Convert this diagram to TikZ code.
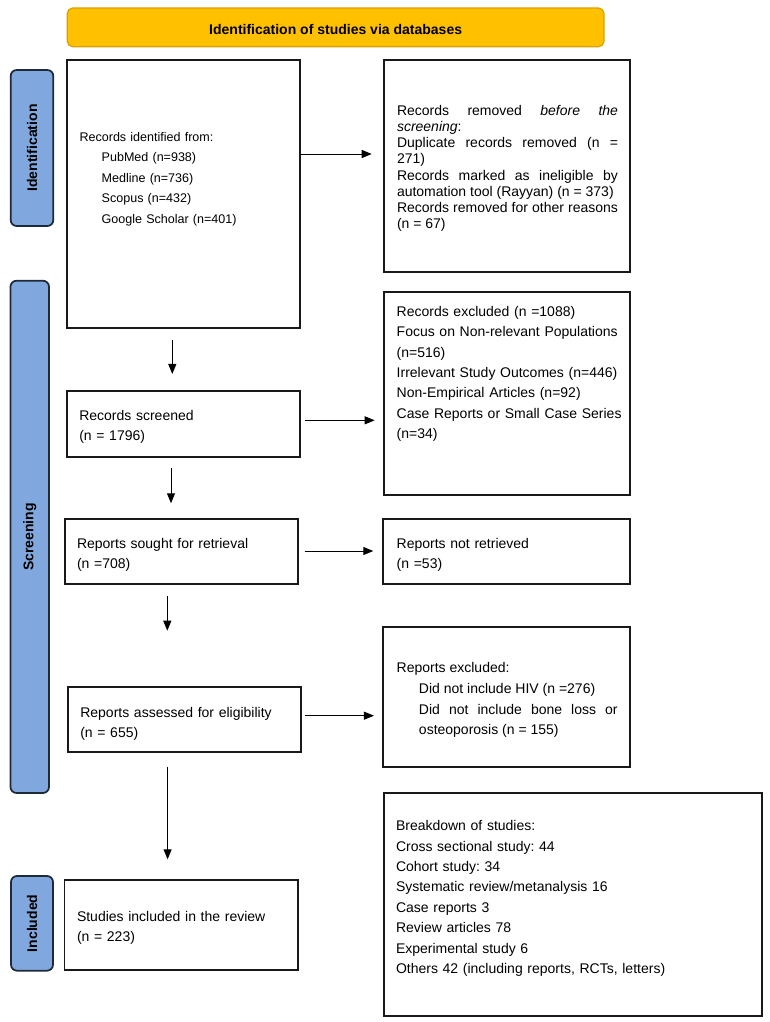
\documentclass[tikz,border=0pt]{standalone}
\usepackage{fontspec}
\setmainfont{Liberation Sans}
\frenchspacing
\usetikzlibrary{arrows.meta,calc}
\definecolor{bannerfill}{HTML}{FFC000}
\definecolor{bannerline}{HTML}{D9A000}
\definecolor{sidefill}{HTML}{80A8DE}
\definecolor{sideline}{HTML}{1E2A38}
\begin{document}
\begin{tikzpicture}[x=0.75pt,y=-0.75pt,
  box/.style={draw=black!90, line width=1.3pt, inner sep=0pt, outer sep=0pt},
  sidebox/.style={draw=sideline, fill=sidefill, line width=1.3pt, rounded corners=4.5pt, inner sep=0pt, outer sep=0pt},
  sidetext/.style={rotate=90, font=\fontsize{10.5}{12}\selectfont\bfseries, inner sep=0pt},
  banner/.style={draw=bannerline, fill=bannerfill, line width=0.9pt, rounded corners=4pt, inner sep=0pt, outer sep=0pt},
  bantext/.style={font=\fontsize{10.5}{12}\selectfont\bfseries, inner sep=0pt},
  txt/.style={anchor=base west, inner sep=0pt, outer sep=0pt, align=left, text width=175pt, font=\fontsize{10.5}{15.2}\selectfont},
  arr/.style={line width=0.75pt, -{Triangle[length=7.5pt,width=6pt]}}
]
\useasboundingbox (0,0) rectangle (770,1022);

% banner
\node[banner, minimum width=402.5pt, minimum height=29pt] (ban) at (335.65,27.35) {};
\node[bantext] (bant) at (335.65,29.5) {Identification of studies via databases};

% side labels
\node[sidebox, minimum width=32pt, minimum height=117pt] (sid) at (32,148) {};
\node[sidetext] (sidt) at (sid.center) {Identification};
\node[sidebox, minimum width=28.9pt, minimum height=384.2pt] (ssc) at (29.75,536.85) {};
\node[sidetext] (ssct) at (ssc.center) {Screening};
\node[sidebox, minimum width=31.5pt, minimum height=71pt] (sin) at (32,923.35) {};
\node[sidetext] (sint) at (sin.center) {Included};

% boxes
\node[box, minimum width=174.75pt, minimum height=201pt] (A) at (183.5,194) {};
\node[box, minimum width=184.5pt, minimum height=159pt] (B) at (507,166) {};
\node[box, minimum width=184.5pt, minimum height=152pt] (C) at (507,393.65) {};
\node[box, minimum width=175.2pt, minimum height=49.3pt] (D) at (183.5,423.85) {};
\node[box, minimum width=175pt, minimum height=49pt] (E) at (181.35,551.35) {};
\node[box, minimum width=185.25pt, minimum height=49pt] (F) at (506.8,551.35) {};
\node[box, minimum width=175pt, minimum height=49pt] (G) at (184.35,719.65) {};
\node[box, minimum width=185.25pt, minimum height=105pt] (H) at (506.8,696.7) {};
\node[box, minimum width=175.4pt, minimum height=67.5pt] (I) at (181.35,925) {};
\node[box, minimum width=283.65pt, minimum height=167pt] (J) at (572.9,904.65) {};

% texts
\node[txt, font=\fontsize{9.4}{15.3}\selectfont] (At) at (79.6,141.5) {Records identified from:\\
\hspace*{16.6pt}PubMed (n=938)\\
\hspace*{16.6pt}Medline (n=736)\\
\hspace*{16.6pt}Scopus (n=432)\\
\hspace*{16.6pt}Google Scholar (n=401)};

\node[txt, align=justify, text width=165.75pt, font=\fontsize{10.5}{12.2}\selectfont] (Bt) at (397,115) {Records removed \textit{before the}\linebreak \textit{screening}:\par
Duplicate records removed (n =\linebreak 271)\par
Records marked as ineligible by\linebreak automation tool (Rayyan) (n = 373)\par
Records removed for other reasons\linebreak (n = 67)\par};

\node[txt] (Ct) at (396.7,316.7) {Records excluded (n =1088)\\
Focus on Non-relevant Populations\\
(n=516)\\
Irrelevant Study Outcomes (n=446)\\
Non-Empirical Articles (n=92)\\
Case Reports or Small Case Series\\
(n=34)};

\node[txt] (Dt) at (79.3,420.7) {Records screened\\(n = 1796)};
\node[txt] (Et) at (77,548.3) {Reports sought for retrieval\\(n =708)};
\node[txt] (Ft) at (396.7,548.3) {Reports not retrieved\\(n =53)};
\node[txt] (Gt) at (80.3,717.3) {Reports assessed for eligibility\\(n = 655)};

\node[txt, align=justify, text width=165.75pt, font=\fontsize{10.5}{15.5}\selectfont] (Ht) at (396.7,672.7) {Reports excluded:\par
{\leftskip=16.7pt Did not include HIV (n =276)\par
Did not include bone loss or\linebreak osteoporosis (n = 155)\par}};

\node[txt] (It) at (77,921.7) {Studies included in the review\\(n = 223)};

\node[txt, text width=270pt, font=\fontsize{10.5}{15.3}\selectfont] (Jt) at (396,830.7) {Breakdown of studies:\\
Cross sectional study: 44\\
Cohort study: 34\\
Systematic review/metanalysis 16\\
Case reports 3\\
Review articles 78\\
Experimental study 6\\
Others 42 (including reports, RCTs, letters)};

% arrow helper coordinates
\coordinate (yab) at (0,154);
\coordinate (ydc) at (0,420.3);
\coordinate (yef) at (0,551);
\coordinate (ygh) at (0,715.7);
\coordinate (xad) at (172.3,0);
\coordinate (xde) at (171,0);
\coordinate (xeg) at (167.3,0);
\coordinate (xgi) at (167.6,0);

% connectors
\draw[arr, shorten >=9.2pt] (A.east |- yab) -- (B.west |- yab);
\draw[arr, shorten <=3.75pt, shorten >=7pt] (D.east |- ydc) -- (C.west |- ydc);
\draw[arr, shorten <=5pt, shorten >=7.5pt] (E.east |- yef) -- (F.west |- yef);
\draw[arr, shorten <=3pt, shorten >=7pt] (G.east |- ygh) -- (H.west |- ygh);
\draw[arr, shorten <=9pt, shorten >=12.75pt] (A.south -| xad) -- (D.north -| xad);
\draw[arr, shorten <=8.7pt, shorten >=11.55pt] (D.south -| xde) -- (E.north -| xde);
\draw[arr, shorten <=9pt, shorten >=42.2pt] (E.south -| xeg) -- (G.north -| xeg);
\draw[arr, shorten <=11pt, shorten >=15.5pt] (G.south -| xgi) -- (I.north -| xgi);
\end{tikzpicture}
\end{document}
